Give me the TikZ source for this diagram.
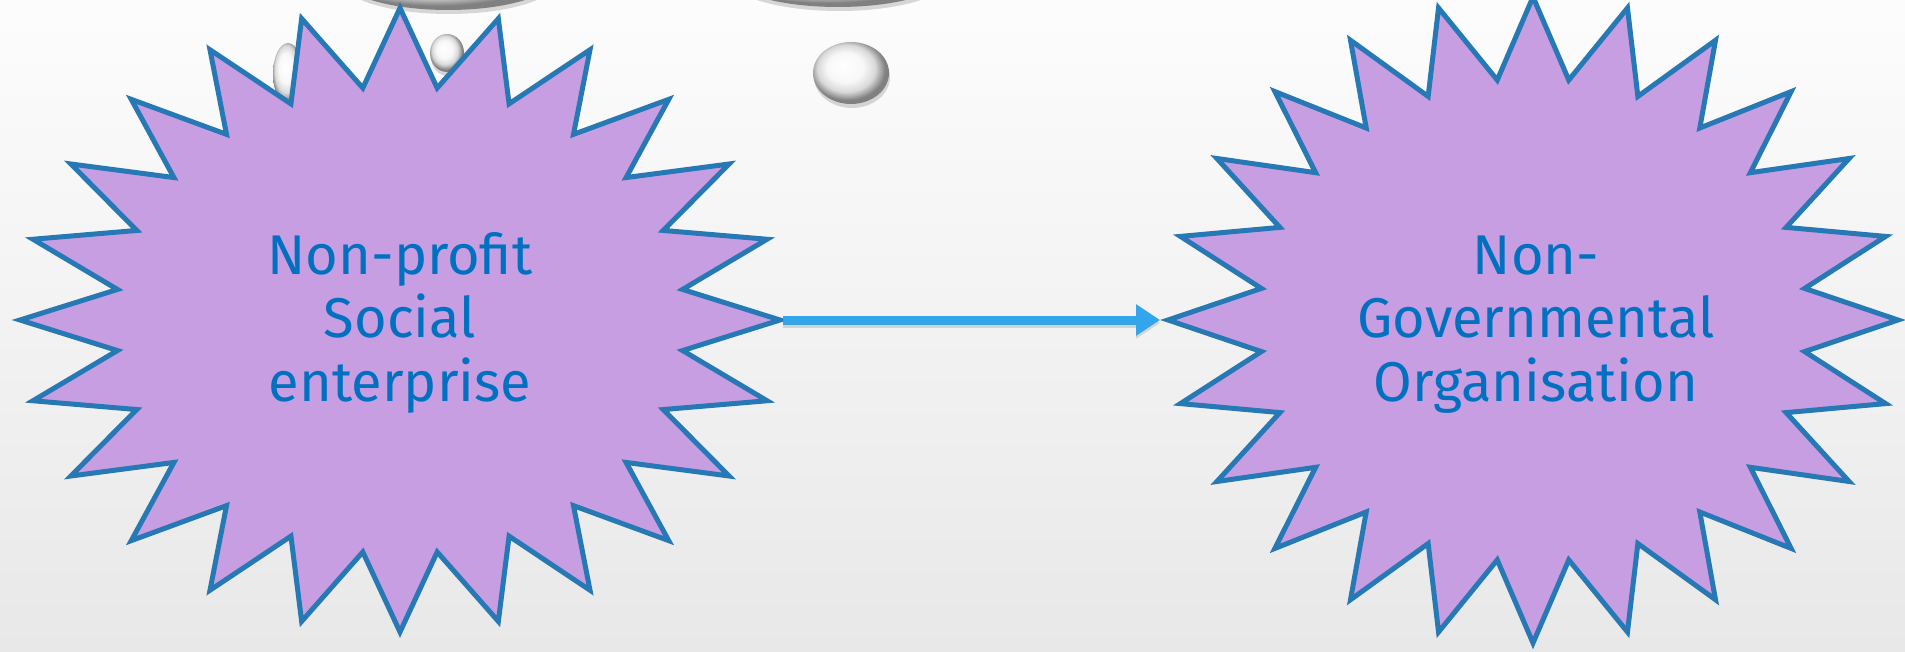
\documentclass[tikz,border=0pt]{standalone}
\usepackage{fontspec}
\setmainfont{Fira Sans}
\usetikzlibrary{arrows.meta,shadows}
\definecolor{starline}{RGB}{38,121,181}
\definecolor{starfill}{RGB}{199,158,225}
\definecolor{textblue}{RGB}{0,112,192}
\definecolor{arrowblue}{RGB}{51,165,235}
\pgfdeclareradialshading{pearl}{\pgfpoint{-5bp}{6bp}}{color(0bp)=(white); color(12bp)=(white!97!black); color(19bp)=(white!85!black); color(23bp)=(white!62!black); color(25bp)=(white!50!black); color(50bp)=(white!50!black)}
\begin{document}
\begin{tikzpicture}[x=1pt,y=-1pt,
  burst/.style={draw=starline, fill=starfill, line width=5pt, line join=miter},
  startext/.style={text=textblue, align=center, font=\fontsize{56}{63.5}\selectfont},
  flowarrow/.style={draw=arrowblue, line width=9pt, -{Triangle[length=24pt,width=30pt]},
    preaction={draw=black, opacity=0.12, line width=9pt, transform canvas={yshift=-3pt}}},
  bubble/.style={shading=pearl, drop shadow={opacity=0.3, shadow xshift=1pt, shadow yshift=-4pt}}]
\useasboundingbox (0,0) rectangle (1905,652);
\shade[top color=white!99!black, bottom color=white!91!black] (0,0) rectangle (1905,652);
\clip (0,0) rectangle (1905,652);
% bubbles
\path[bubble] (448,-25) ellipse [x radius=110pt, y radius=35pt];
\path[bubble] (838,-26) ellipse [x radius=110pt, y radius=33pt];
\path[bubble] (288,74) ellipse [x radius=15pt, y radius=31pt];
\path[bubble] (447,53) ellipse [x radius=17pt, y radius=19pt];
\path[bubble] (851,73) ellipse [x radius=38pt, y radius=31pt];
% left star
\draw[burst, shift={(400,320)}] (90:380pt and 312pt)
  \foreach \k in {0,...,22}{ -- ({97.5+15*\k}:285pt and 234pt) -- ({105+15*\k}:380pt and 312pt) }
  -- (442.5:285pt and 234pt) -- cycle;
% right star
\draw[burst, shift={(1533,320)}] (90:365pt and 323pt)
  \foreach \k in {0,...,22}{ -- ({97.5+15*\k}:274pt and 242pt) -- ({105+15*\k}:365pt and 323pt) }
  -- (442.5:274pt and 242pt) -- cycle;
\coordinate (npse-e) at (783,320);
\coordinate (ngo-w) at (1160,320);
\node[startext, anchor=base] (npse) at (400,401) {Non-profit\\Social\\enterprise};
\node[startext, anchor=base] (ngo) at (1536,401) {Non-\\Governmental\\Organisation};
\draw[flowarrow] (npse-e) -- (ngo-w);
\end{tikzpicture}
\end{document}
